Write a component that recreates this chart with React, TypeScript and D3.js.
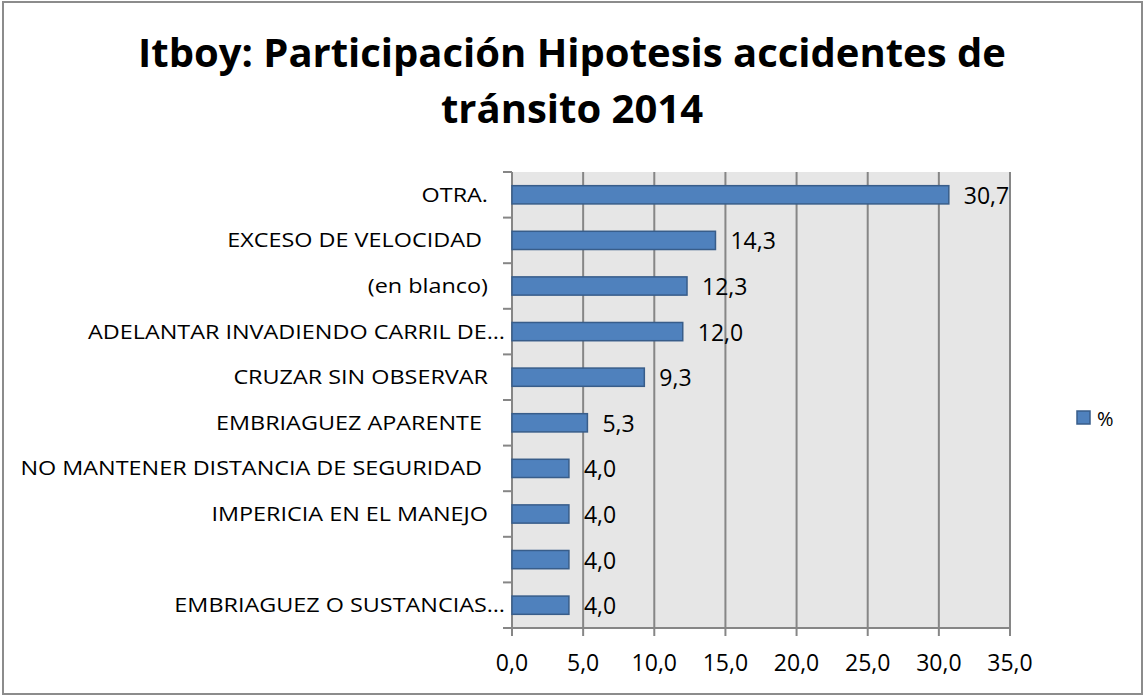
import React from 'react';
import * as d3 from 'd3';

const categories = [
    'OTRA.',
    'EXCESO DE VELOCIDAD ',
    '(en blanco)',
    'ADELANTAR INVADIENDO CARRIL DE…',
    'CRUZAR SIN OBSERVAR',
    'EMBRIAGUEZ APARENTE ',
    'NO MANTENER DISTANCIA DE SEGURIDAD ',
    'IMPERICIA EN EL MANEJO',
    '',
    'EMBRIAGUEZ O SUSTANCIAS…',
];
const values = [30.7, 14.3, 12.3, 12.0, 9.3, 5.3, 4.0, 4.0, 4.0, 4.0];
const xTicks = [0, 5, 10, 15, 20, 25, 30, 35];
const titleLines = ['Itboy: Participación Hipotesis accidentes de', 'tránsito 2014'];
const seriesName = '%';

const W = 1143;
const H = 696;
const font = "'Open Sans', sans-serif";
const fmt = (v: number) => v.toFixed(1).replace('.', ',');

export default function App() {
    const x = d3.scaleLinear().domain([0, 35]).range([512, 1010]);
    const keys = categories.map((c, i) => String(i));
    const y = d3.scaleBand<string>().domain(keys).range([172, 628]).paddingInner(0.6).paddingOuter(0.3);
    const band = d3.scaleBand<string>().domain(keys).range([172, 628]);
    const grid = '#868686';

    return (
        <svg
            width={W}
            height={H}
            style={{ position: 'absolute', left: 0, top: 0, fontFamily: font }}
        >
            <rect x={0} y={0} width={W} height={H} fill="#fff" />
            <rect x={3} y={2} width={1139} height={692} fill="none" stroke="#8c8c8c" strokeWidth={2} />

            {titleLines.map((t, i) => (
                <text
                    key={i}
                    x={572}
                    y={67 + i * 56}
                    textAnchor="middle"
                    fontSize={40}
                    fontWeight="bold"
                    fill="#000"
                >
                    {t}
                </text>
            ))}

            <rect x={x(0)} y={172} width={x(35) - x(0)} height={628 - 172} fill="#e6e6e6" />

            {xTicks.slice(1).map(t => (
                <line key={t} x1={x(t)} x2={x(t)} y1={172} y2={628} stroke={grid} strokeWidth={2} />
            ))}

            {/* category axis */}
            <line x1={x(0)} x2={x(0)} y1={172} y2={628} stroke={grid} strokeWidth={2} />
            {keys.map(k => (
                <line key={'ct' + k} x1={503} x2={x(0)} y1={band(k)!} y2={band(k)!} stroke={grid} strokeWidth={2} />
            ))}
            <line x1={503} x2={x(0)} y1={628} y2={628} stroke={grid} strokeWidth={2} />

            {/* value axis */}
            <line x1={x(0)} x2={x(35)} y1={628} y2={628} stroke={grid} strokeWidth={2} />
            {xTicks.map(t => (
                <g key={'xt' + t}>
                    <line x1={x(t)} x2={x(t)} y1={628} y2={636} stroke={grid} strokeWidth={2} />
                    <text x={x(t)} y={671} textAnchor="middle" fontSize={23} fill="#000">
                        {fmt(t)}
                    </text>
                </g>
            ))}

            {categories.map((c, i) => {
                const cy = band(String(i))! + band.bandwidth() / 2;
                const ax = c.endsWith('…') ? 505 : 488;
                return (
                    <text
                        key={'cl' + i}
                        transform={`translate(${ax},${cy + 7}) scale(1.17,1)`}
                        textAnchor="end"
                        fontSize={20}
                        fill="#000"
                        style={{ whiteSpace: 'pre' }}
                    >
                        {c}
                    </text>
                );
            })}

            {values.map((v, i) => (
                <g key={'b' + i}>
                    <rect
                        x={x(0)}
                        y={y(String(i))!}
                        width={x(v) - x(0)}
                        height={y.bandwidth()}
                        fill="#4f81bd"
                        stroke="#385d8a"
                        strokeWidth={1.5}
                    />
                    <text
                        x={x(v) + 15}
                        y={y(String(i))! + y.bandwidth() / 2 + 9}
                        fontSize={23}
                        fill="#000"
                    >
                        {fmt(v)}
                    </text>
                </g>
            ))}

            {/* legend */}
            <rect x={1077} y={411} width={13} height={13} fill="#4f81bd" stroke="#385d8a" strokeWidth={1.5} />
            <text x={1097} y={426} fontSize={20} fill="#000">
                {seriesName}
            </text>
        </svg>
    );
}
